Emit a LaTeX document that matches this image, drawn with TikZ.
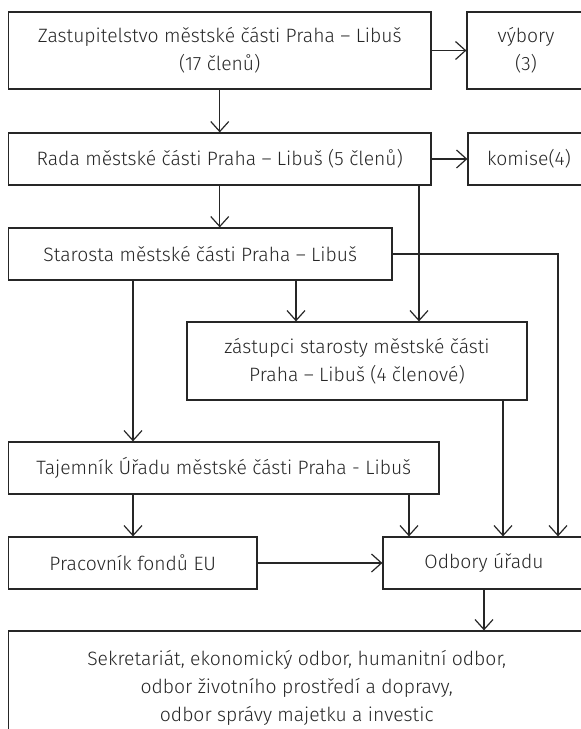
\documentclass[tikz,border=0pt]{standalone}
\usepackage{fontspec}
\setmainfont{Fira Sans}[UprightFont=* Light]
\usetikzlibrary{arrows.meta}

\tikzset{
  orgbox/.style 2 args={draw, rectangle, inner sep=0pt, align=center,
    minimum width=#1*0.75pt, minimum height=#2*0.75pt,
    font=\fontsize{14.5}{21}\selectfont},
  link/.style={-{Straight Barb[length=7.5pt,width=13.5pt]}},
}

\begin{document}
\begin{tikzpicture}[x=0.75pt,y=-0.75pt,line width=0.9pt,color=black!85]
\useasboundingbox (0,0) rectangle (581,729);
\clip (0,0) rectangle (581,729);

% columns where the connectors run
\coordinate (cA) at (133,0);
\coordinate (cB) at (296,0);
\coordinate (cR) at (419,0);
\coordinate (cC) at (409,0);
\coordinate (cD) at (503,0);
\coordinate (cE) at (558,0);

\node[orgbox={422.5}{77}] (zast) at (219.75,50.5) {Zastupitelstvo městské části Praha – Libuš\\(17 členů)};
\node[orgbox={118}{77}] (vyb) at (526,50.5) {výbory\\(3)};
\node[orgbox={422.5}{52}] (rada) at (219.75,159) {Rada městské části Praha – Libuš (5 členů)};
\node[orgbox={122}{52}] (kom) at (529,159) {komise(4)};
\node[orgbox={383.5}{52}] (star) at (200.25,254) {Starosta městské části Praha – Libuš};
\node[orgbox={340}{78}] (zast2) at (357,361) {zástupci starosty městské části\\Praha – Libuš (4 členové)};
\node[orgbox={430.5}{52}] (taj) at (223.75,468) {Tajemník Úřadu městské části Praha - Libuš};
\node[orgbox={248.5}{52}] (prac) at (132.75,563) {Pracovník fondů EU};
\node[orgbox={202}{52}] (odb) at (484,563) {Odbory úřadu};
\node[orgbox={576.5}{114}] (sekr) at (296.75,688) {Sekretariát, ekonomický odbor, humanitní odbor,\\odbor životního prostředí a dopravy,\\odbor správy majetku a investic};

\draw[link] (zast.east) -- (vyb.west);
\draw[link] (zast.south) -- (rada.north);
\draw[link] (rada.east) -- (kom.west);
\draw[link] (rada.south) -- (rada.south |- star.north);
\draw[link] (rada.south -| cR) -- (zast2.north -| cR);
\draw[link] (star.east) -| (odb.north -| cE);
\draw[link] (star.south -| cB) -- (zast2.north -| cB);
\draw[link] (star.south -| cA) -- (taj.north -| cA);
\draw[link] (zast2.south -| cD) -- (odb.north -| cD);
\draw[link] (taj.south -| cA) -- (prac.north -| cA);
\draw[link] (taj.south -| cC) -- (odb.north -| cC);
\draw[link] (prac.east) -- (odb.west);
\draw[link] (odb.south) -- (odb.south |- sekr.north);

\end{tikzpicture}
\end{document}
